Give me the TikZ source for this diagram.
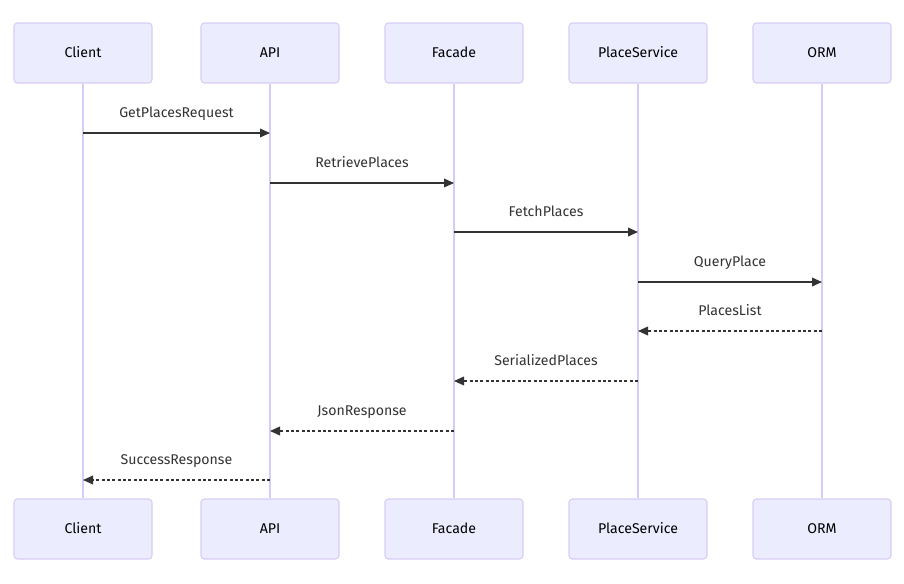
\documentclass[tikz,border=0pt]{standalone}
\usepackage{fontspec}
\setmainfont{Fira Sans}
\usetikzlibrary{arrows.meta}
\definecolor{actorfill}{HTML}{ECECFF}
\definecolor{actorline}{HTML}{D8CCF4}
\definecolor{msgcol}{HTML}{333333}
\tikzset{
    actor/.style={draw=actorline, fill=actorfill, rounded corners=2.5pt, line width=0.8pt,
        minimum width=103.5pt, minimum height=45pt, font=\fontsize{10.6}{12}\selectfont, text=black,
        text height=1.6ex, text depth=0.3ex},
    lifeline/.style={draw=actorline, line width=1.1pt},
    msg/.style={draw=msgcol, line width=1.1pt, -{Triangle[length=7.5pt, width=6.5pt]}},
    reply/.style={msg, dash pattern=on 2.2pt off 1.8pt},
    msglabel/.style={font=\fontsize{10.6}{12}\selectfont, text=msgcol, above=6.5pt,
        text height=1.6ex, text depth=0.3ex}
}
\begin{document}
\begin{tikzpicture}[x=0.75pt, y=-0.75pt]
    \useasboundingbox (0, 0) rectangle (904, 583);
    \foreach \n/\t/\x in {Client/Client/83, Api/API/270, Facade/Facade/454, Service/PlaceService/638, Orm/ORM/822} {
        \node[actor] (top\n) at (\x, 53) {\t};
        \node[actor] (bot\n) at (\x, 529) {\t};
        \draw[lifeline] (top\n) -- (bot\n);
    }
    % requests
    \draw[msg] (topClient |- 0, 133) -- (topApi |- 0, 133) node[midway, msglabel] {GetPlacesRequest};
    \draw[msg] (topApi |- 0, 183) -- (topFacade |- 0, 183) node[midway, msglabel] {RetrievePlaces};
    \draw[msg] (topFacade |- 0, 232) -- (topService |- 0, 232) node[midway, msglabel] {FetchPlaces};
    \draw[msg] (topService |- 0, 282) -- (topOrm |- 0, 282) node[midway, msglabel] {QueryPlace};
    % replies
    \draw[reply] (topOrm |- 0, 331) -- (topService |- 0, 331) node[midway, msglabel] {PlacesList};
    \draw[reply] (topService |- 0, 381) -- (topFacade |- 0, 381) node[midway, msglabel] {SerializedPlaces};
    \draw[reply] (topFacade |- 0, 431) -- (topApi |- 0, 431) node[midway, msglabel] {JsonResponse};
    \draw[reply] (topApi |- 0, 480) -- (topClient |- 0, 480) node[midway, msglabel] {SuccessResponse};
\end{tikzpicture}
\end{document}
